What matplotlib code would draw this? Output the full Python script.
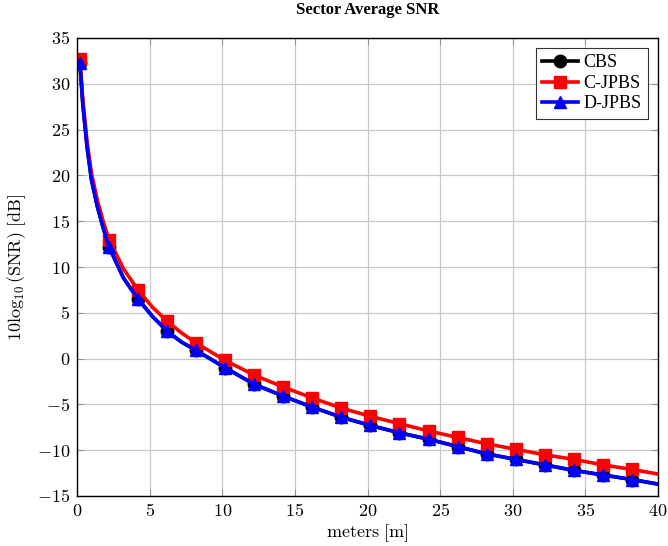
import numpy as np
import matplotlib
matplotlib.use("Agg")
import matplotlib.pyplot as plt
from matplotlib.ticker import FuncFormatter, MultipleLocator

plt.rcParams["mathtext.fontset"] = "cm"
plt.rcParams["font.family"] = ["Liberation Serif", "DejaVu Serif"]

# -----------------------------
# DATA
# -----------------------------
dist = [0.2, 0.4, 0.7, 1.0, 1.4, 1.8, 2.2, 3.2, 4.2, 5.2, 6.2, 7.2, 8.2, 10.2, 12.2,
        14.2, 16.2, 18.2, 20.2, 22.2, 24.2, 26.2, 28.2, 30.2, 32.2, 34.2, 36.2, 38.2, 40.0]

snr_cbs = [32.3, 27.8, 23.0, 19.5, 16.6, 14.3, 12.2, 8.8, 6.5, 4.6, 3.0, 1.8, 0.9, -1.0, -2.8,
           -4.1, -5.3, -6.4, -7.3, -8.1, -8.8, -9.6, -10.4, -11.0, -11.6, -12.2, -12.7, -13.2, -13.7]
snr_cjpbs = [32.7, 28.3, 23.6, 20.2, 17.3, 15.0, 13.0, 9.8, 7.5, 5.6, 4.1, 2.8, 1.7, -0.2, -1.8,
             -3.1, -4.3, -5.4, -6.3, -7.1, -7.9, -8.6, -9.3, -9.9, -10.5, -11.0, -11.6, -12.1, -12.6]
snr_djpbs = [32.3, 27.8, 23.0, 19.5, 16.6, 14.3, 12.2, 8.8, 6.5, 4.6, 3.0, 1.8, 0.9, -1.0, -2.8,
             -4.1, -5.3, -6.4, -7.3, -8.1, -8.8, -9.6, -10.4, -11.0, -11.6, -12.2, -12.7, -13.2, -13.7]

# markers every 2 m starting at 0.2
mark_x = [0.2 + 2 * k for k in range(20)]
mark_idx = [i for i, d in enumerate(dist) if any(abs(d - m) < 1e-6 for m in mark_x)]

series = [
    ("CBS", snr_cbs, "black", "o", 9),
    ("C-JPBS", snr_cjpbs, "red", "s", 8),
    ("D-JPBS", snr_djpbs, "blue", "^", 9),
]

fig = plt.figure(figsize=(6.68, 5.46), dpi=100)
ax = fig.add_axes([77 / 668, 1 - 496 / 546, (658 - 77) / 668, (496 - 38) / 546])

for name, vals, col, mk, ms in series:
    ax.plot(dist, vals, color=col, lw=2.6, marker=mk, markersize=ms,
            markevery=mark_idx, label=name)

ax.set_xlim(0, 40)
ax.set_ylim(-15, 35)
ax.xaxis.set_major_locator(MultipleLocator(5))
ax.yaxis.set_major_locator(MultipleLocator(5))
fmt = FuncFormatter(lambda v, p: r"$%g$" % v)
ax.xaxis.set_major_formatter(fmt)
ax.yaxis.set_major_formatter(fmt)
ax.tick_params(direction="in", top=True, right=True, length=5, width=0.6,
               color="#888888", labelsize=13, pad=5)
ax.grid(True, color="#c8c8c8", lw=0.9)
ax.set_axisbelow(True)
for s in ax.spines.values():
    s.set_linewidth(1.0)

ax.set_xlabel(r"$\mathrm{meters\ [m]}$", fontsize=13, labelpad=2)
ax.set_ylabel(r"$10\log_{10}(\mathrm{SNR})\ [\mathrm{dB}]$", fontsize=13, labelpad=6)
ax.set_title("Sector Average SNR", fontsize=12, fontweight="bold", pad=17)

leg = ax.legend(loc="upper right", fontsize=13, fancybox=False, edgecolor="#333333",
                framealpha=1, handlelength=2.0, borderpad=0.35, labelspacing=0.2,
                handletextpad=0.3, borderaxespad=0.55)
leg.get_frame().set_linewidth(0.8)

fig.savefig("out.png", dpi=100)
